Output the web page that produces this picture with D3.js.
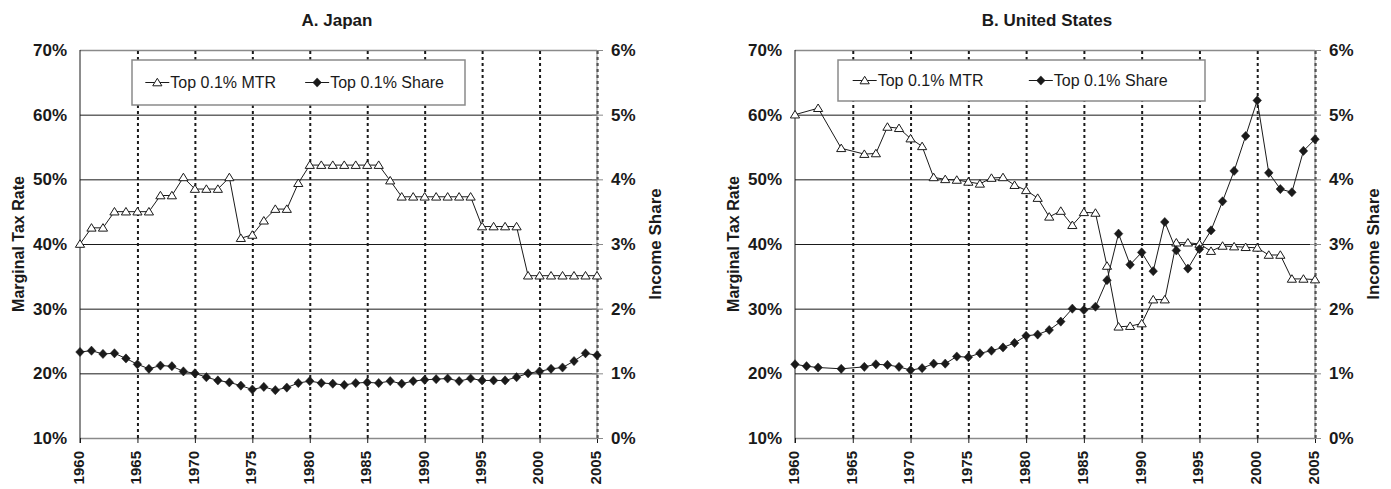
<!DOCTYPE html>
<html>
<head>
<meta charset="utf-8">
<script src="https://cdn.jsdelivr.net/npm/d3@7"></script>
<style>
  html, body { margin: 0; padding: 0; background: #fff; }
  svg { display: block; font-family: "Liberation Sans", Arial, Helvetica, sans-serif; }
</style>
</head>
<body>
<svg id="chart" width="1391" height="489"></svg>
<script>
// ---------------- DATA ----------------
const years = [1960,1961,1962,1963,1964,1965,1966,1967,1968,1969,
               1970,1971,1972,1973,1974,1975,1976,1977,1978,1979,
               1980,1981,1982,1983,1984,1985,1986,1987,1988,1989,
               1990,1991,1992,1993,1994,1995,1996,1997,1998,1999,
               2000,2001,2002,2003,2004,2005];

const japanMTR = [40.0,42.5,42.5,45.0,45.0,45.0,45.0,47.5,47.5,50.3,
                  48.5,48.5,48.5,50.3,40.9,41.4,43.6,45.4,45.4,49.4,
                  52.2,52.2,52.2,52.2,52.2,52.2,52.2,49.8,47.3,47.3,
                  47.3,47.3,47.3,47.3,47.3,42.7,42.7,42.7,42.7,35.1,
                  35.1,35.1,35.1,35.1,35.1,35.1];

const japanShare = [1.33,1.35,1.30,1.31,1.23,1.14,1.07,1.12,1.11,1.03,
                    1.00,0.94,0.89,0.86,0.81,0.75,0.79,0.74,0.78,0.85,
                    0.88,0.85,0.84,0.82,0.85,0.86,0.85,0.88,0.84,0.88,
                    0.90,0.91,0.92,0.88,0.92,0.89,0.89,0.89,0.94,1.00,
                    1.03,1.07,1.09,1.19,1.31,1.28];

const usMTR = [60.0,null,61.0,null,54.8,null,53.9,54.0,58.1,57.9,
               56.3,55.1,50.3,50.0,49.9,49.6,49.3,50.2,50.3,49.1,
               48.3,47.1,44.2,45.1,42.9,44.9,44.8,36.6,27.2,27.3,
               27.7,31.4,31.4,40.2,40.2,40.0,38.9,39.7,39.6,39.5,
               39.4,38.3,38.3,34.6,34.6,34.5];

const usShare = [1.14,1.11,1.09,null,1.07,null,1.10,1.14,1.13,1.10,
                 1.05,1.08,1.15,1.15,1.26,1.25,1.31,1.35,1.40,1.47,
                 1.58,1.60,1.67,1.80,2.00,1.98,2.03,2.44,3.16,2.68,
                 2.87,2.58,3.34,2.90,2.62,2.92,3.21,3.66,4.13,4.67,
                 5.22,4.10,3.85,3.80,4.44,4.62];

const mtrTicks   = [10,20,30,40,50,60,70];
const shareTicks = [0,1,2,3,4,5,6];
const yearTicks  = [1960,1965,1970,1975,1980,1985,1990,1995,2000,2005];

const panelTitles = ["A. Japan", "B. United States"];
const leftAxisTitle = "Marginal Tax Rate";
const rightAxisTitle = "Income Share";
const legendLabels = ["Top 0.1% MTR", "Top 0.1% Share"];

// ---------------- LAYOUT ----------------
const panels = [
  { title: panelTitles[0], mtr: japanMTR, share: japanShare, left: 80,  right: 597, titleX: 337,
    legend: { x: 132, y: 60, w: 333, h: 45 } },
  { title: panelTitles[1], mtr: usMTR,    share: usShare,    left: 795, right: 1315, titleX: 1047,
    legend: { x: 838, y: 60, w: 367, h: 41 } }
];
const plotTop = 50, plotBottom = 438;
const INK = "#1a1a1a";

const svg = d3.select("#chart");

function trianglePath(cx, cy) {
  return `M${cx},${cy-4.2}L${cx+4.6},${cy+3.3}L${cx-4.6},${cy+3.3}Z`;
}
function diamondPath(cx, cy) {
  return `M${cx},${cy-4.6}L${cx+4.3},${cy}L${cx},${cy+4.6}L${cx-4.3},${cy}Z`;
}

panels.forEach((p) => {
  const g = svg.append("g");
  const x  = d3.scaleLinear().domain([1960, 2005]).range([p.left, p.right]);
  const yL = d3.scaleLinear().domain([10, 70]).range([plotBottom, plotTop]);
  const yR = d3.scaleLinear().domain([0, 6]).range([plotBottom, plotTop]);
  const w = p.right - p.left, h = plotBottom - plotTop;

  // Title
  g.append("text")
    .attr("x", p.titleX).attr("y", 26)
    .attr("text-anchor", "middle")
    .attr("font-weight", "bold").attr("font-size", 17)
    .attr("fill", INK)
    .text(p.title);

  // Horizontal gridlines
  const hGrid = g.append("g")
    .attr("transform", `translate(${p.left},0)`)
    .call(d3.axisLeft(yL).tickValues(mtrTicks).tickSize(-w).tickFormat(""));
  hGrid.select(".domain").remove();
  hGrid.selectAll(".tick line")
    .attr("stroke", d => (d === 10 || d === 70) ? "#8a8a8a" : INK)
    .attr("stroke-width", d => (d === 10 || d === 70) ? 1.5 : 1);

  // Vertical dotted gridlines
  const vGrid = g.append("g")
    .attr("transform", `translate(0,${plotBottom})`)
    .call(d3.axisBottom(x).tickValues(yearTicks.filter(d => d > 1960)).tickSize(-h).tickFormat(""));
  vGrid.select(".domain").remove();
  vGrid.selectAll(".tick line")
    .attr("stroke", INK).attr("stroke-width", 2).attr("stroke-dasharray", "3,3");

  // Bottom axis ticks + labels
  const xAxis = g.append("g")
    .attr("transform", `translate(0,${plotBottom})`)
    .call(d3.axisBottom(x).tickValues(yearTicks).tickSize(5).tickFormat(d3.format("d")));
  xAxis.select(".domain").remove();
  xAxis.selectAll(".tick line").attr("stroke", INK);
  xAxis.selectAll(".tick text")
    .attr("font-family", null)
    .attr("font-size", 15).attr("font-weight", "bold").attr("fill", INK)
    .attr("text-anchor", "end")
    .attr("x", 0).attr("y", 0)
    .attr("dy", "0.36em")
    .attr("transform", "translate(-2,13) rotate(-90)");

  // Left axis
  const yAxisL = g.append("g")
    .attr("transform", `translate(${p.left},0)`)
    .call(d3.axisLeft(yL).tickValues(mtrTicks).tickSize(0).tickPadding(13).tickFormat(d => d + "%"));
  yAxisL.select(".domain").attr("stroke", INK).attr("d", `M0,${plotTop}V${plotBottom + 5}`);
  yAxisL.selectAll(".tick text")
    .attr("font-family", null)
    .attr("font-size", 17).attr("font-weight", "bold").attr("fill", INK);

  // Right axis
  const yAxisR = g.append("g")
    .attr("transform", `translate(${p.right},0)`)
    .call(d3.axisRight(yR).tickValues(shareTicks).tickSize(6).tickPadding(8).tickFormat(d => d + "%"));
  yAxisR.select(".domain").attr("stroke", "#8a8a8a").attr("d", `M0,${plotTop}V${plotBottom}`);
  yAxisR.selectAll(".tick line").attr("stroke", "#8a8a8a").attr("x1", -5);
  yAxisR.selectAll(".tick text")
    .attr("font-family", null)
    .attr("font-size", 17).attr("font-weight", "bold").attr("fill", INK);

  // Axis titles
  const midY = (plotTop + plotBottom) / 2;
  g.append("text")
    .attr("transform", `translate(${p.left - 62},${midY}) rotate(-90)`)
    .attr("text-anchor", "middle").attr("dy", "0.36em")
    .attr("font-weight", "bold").attr("font-size", 16).attr("fill", INK)
    .text(leftAxisTitle);
  g.append("text")
    .attr("transform", `translate(${p.right + 58},${midY}) rotate(-90)`)
    .attr("text-anchor", "middle").attr("dy", "0.36em")
    .attr("font-weight", "bold").attr("font-size", 17).attr("fill", INK)
    .text(rightAxisTitle);

  // Series
  const mtrPts = years.map((yr, i) => ({ yr, v: p.mtr[i] })).filter(d => d.v !== null);
  const shrPts = years.map((yr, i) => ({ yr, v: p.share[i] })).filter(d => d.v !== null);

  const lineL = d3.line().x(d => x(d.yr)).y(d => yL(d.v));
  const lineR = d3.line().x(d => x(d.yr)).y(d => yR(d.v));

  g.append("path").datum(mtrPts)
    .attr("d", lineL).attr("fill", "none").attr("stroke", INK).attr("stroke-width", 1);
  g.append("g").selectAll("path").data(mtrPts).join("path")
    .attr("d", d => trianglePath(x(d.yr), yL(d.v)))
    .attr("fill", "#fff").attr("stroke", INK).attr("stroke-width", 1);

  g.append("path").datum(shrPts)
    .attr("d", lineR).attr("fill", "none").attr("stroke", INK).attr("stroke-width", 1);
  g.append("g").selectAll("path").data(shrPts).join("path")
    .attr("d", d => diamondPath(x(d.yr), yR(d.v)))
    .attr("fill", INK).attr("stroke", INK).attr("stroke-width", 0.5);

  // Legend
  const L = p.legend;
  const lg = g.append("g");
  lg.append("rect")
    .attr("x", L.x).attr("y", L.y).attr("width", L.w).attr("height", L.h)
    .attr("fill", "#fff").attr("stroke", "#8a8a8a").attr("stroke-width", 1.5);
  const cy = L.y + L.h / 2;
  const x1 = L.x + L.w * 0.04;
  const x2 = L.x + L.w * 0.52;
  // MTR item
  lg.append("line").attr("x1", x1).attr("x2", x1 + 24).attr("y1", cy).attr("y2", cy)
    .attr("stroke", INK).attr("stroke-width", 1);
  lg.append("path").attr("d", trianglePath(x1 + 12, cy)).attr("fill", "#fff").attr("stroke", INK);
  lg.append("text").attr("x", x1 + 25).attr("y", cy).attr("dy", "0.35em")
    .attr("font-size", 16).attr("fill", INK).text(legendLabels[0]);
  // Share item
  lg.append("line").attr("x1", x2).attr("x2", x2 + 24).attr("y1", cy).attr("y2", cy)
    .attr("stroke", INK).attr("stroke-width", 1);
  lg.append("path").attr("d", diamondPath(x2 + 12, cy)).attr("fill", INK).attr("stroke", INK).attr("stroke-width", 0.5);
  lg.append("text").attr("x", x2 + 25).attr("y", cy).attr("dy", "0.35em")
    .attr("font-size", 16).attr("fill", INK).text(legendLabels[1]);
});
</script>
</body>
</html>
